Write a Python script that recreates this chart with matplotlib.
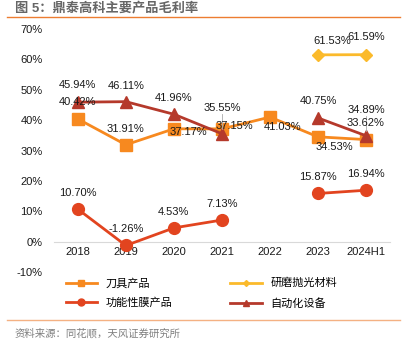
import numpy as np
import matplotlib
matplotlib.use("Agg")
from matplotlib import pyplot as plt
from matplotlib.lines import Line2D

plt.rcParams['font.family'] = ['Liberation Sans', 'Noto Sans CJK SC', 'DejaVu Sans']

years = ['2018', '2019', '2020', '2021', '2022', '2023', '2024H1']
cutter = [40.42, 31.91, 37.17, 37.15, 41.03, 34.53, 33.62]
abrasive = [np.nan, np.nan, np.nan, np.nan, np.nan, 61.53, 61.59]
film = [10.70, -1.26, 4.53, 7.13, np.nan, 15.87, 16.94]
auto = [45.94, 46.11, 41.96, 35.55, np.nan, 40.75, 34.89]
names = ['刀具产品', '研磨抛光材料', '功能性膜产品', '自动化设备']

c_cutter = '#F7891F'
c_abr = '#FBBA2B'
c_film = '#E2441F'
c_auto = '#B5392B'

# label offsets in pixels (dx, dy), dy up positive
off_cutter = [(0, 17), (0, 16), (14, -3), (12, 3), (13, -10), (16, -10), (0, 17)]
off_abr = [None] * 5 + [(14, 14), (0, 18)]
off_film = [(0, 16)] * 7
off_auto = [(0, 17), (0, 16), (0, 16), (0, 26), None, (0, 17), (0, 26)]

fig = plt.figure(figsize=(4.14, 3.51), dpi=100)
ax = fig.add_axes([0.130, 0.225, 0.812, 0.692])
x = np.arange(len(years))

ax.plot(x, cutter, color=c_cutter, lw=2, marker='s', ms=8.5, zorder=3)
ax.plot(x, abrasive, color=c_abr, lw=2, marker='D', ms=6, zorder=3)
ax.plot(x, film, color=c_film, lw=2, marker='o', ms=8.5, zorder=3)
ax.plot(x, auto, color=c_auto, lw=2, marker='^', ms=8, zorder=3)

for vals, offs in [(auto, off_auto), (cutter, off_cutter), (abrasive, off_abr), (film, off_film)]:
    for i, v in enumerate(vals):
        if np.isnan(v) or offs[i] is None:
            continue
        ax.annotate('%.2f%%' % v, (i, v), xytext=offs[i], textcoords='offset pixels',
                    ha='center', va='center', fontsize=8, color='#1a1a1a', zorder=5)

# leader lines
for i, v in [(3, auto[3]), (6, auto[6])]:
    ax.plot([i, i], [v + 1.5, v + 6.5], color='#aaaaaa', lw=0.6, zorder=4)

ax.set_xlim(-0.5, 6.5)
ax.set_ylim(-10, 70)
ax.set_xticks(x)
ax.set_xticklabels(years)
ax.set_yticks(np.arange(-10, 71, 10))
ax.set_yticklabels(['%d%%' % t for t in np.arange(-10, 71, 10)])
ax.spines['bottom'].set_position(('data', 0))
ax.spines['bottom'].set_color('#d9d9d9')
for s in ['top', 'right', 'left']:
    ax.spines[s].set_visible(False)
ax.tick_params(axis='both', length=0, labelsize=8, colors='#1a1a1a')
ax.tick_params(axis='y', pad=8)
ax.tick_params(axis='x', pad=4)

h_cutter = Line2D([], [], color=c_cutter, lw=2, marker='s', ms=5)
h_abr = Line2D([], [], color=c_abr, lw=2, marker='D', ms=3)
h_film = Line2D([], [], color=c_film, lw=2, marker='o', ms=5)
h_auto = Line2D([], [], color=c_auto, lw=2, marker='^', ms=4)
# column-wise fill: left column first
fig.legend([h_cutter, h_film, h_abr, h_auto], [names[0], names[2], names[1], names[3]],
           loc='upper left', bbox_to_anchor=(0.135, 0.237), ncol=2,
           frameon=False, fontsize=8, handlelength=2.8, columnspacing=5.2,
           handletextpad=0.8, labelspacing=0.85)

fig.text(0.036, 0.977, '图 5：鼎泰高科主要产品毛利率', fontsize=9.5, color='#666666',
         fontweight='bold', va='center')
fig.add_artist(Line2D([0.017, 0.967], [0.952, 0.952], color='#ED7D31', lw=1))
fig.add_artist(Line2D([0.017, 0.967], [0.088, 0.088], color='#F4B183', lw=1))
fig.text(0.036, 0.050, '资料来源：同花顺，天风证券研究所', fontsize=7.5, color='#7f7f7f',
         va='center')

fig.savefig('out.png', dpi=100)
